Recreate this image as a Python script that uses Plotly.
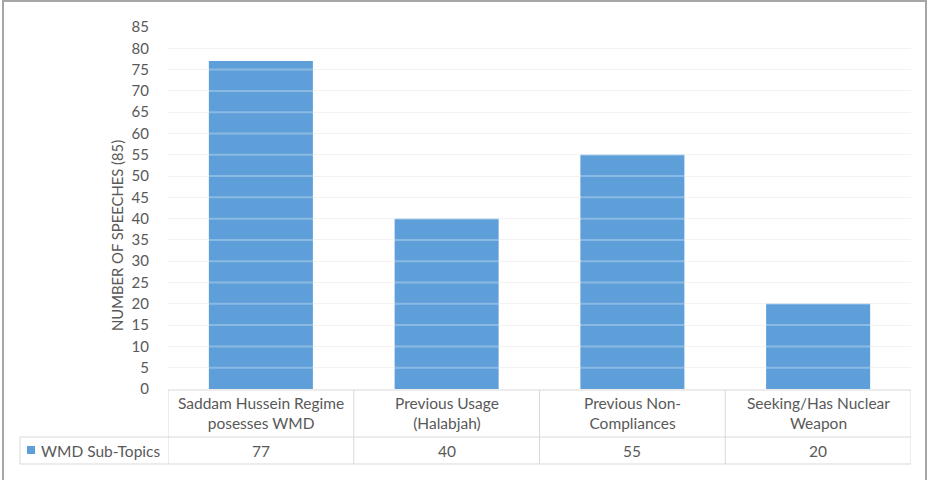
import plotly.graph_objects as go

# ---- data ----
categories = ["Saddam Hussein Regime<br>posesses WMD", "Previous Usage<br>(Halabjah)",
              "Previous Non-<br>Compliances", "Seeking/Has Nuclear<br>Weapon"]
series_name = "WMD Sub-Topics"
values = [77, 40, 55, 20]
y_ticks = [0, 5, 10, 15, 20, 25, 30, 35, 40, 45, 50, 55, 60, 65, 70, 75, 80, 85]
y_title = "NUMBER OF SPEECHES (85)"

# ---- layout constants (pixels) ----
W, H = 928, 480
PL, PR, PT, PB = 168, 911, 27, 389      # plot area
BAR_COLOR = "#5e9fd9"
TXT = "#595959"
GRID = "#d9d9d9"
FONT = "Lato"

def px(xp):  # pixel x -> paper
    return (xp - PL) / (PR - PL)

def py(yp):  # pixel y -> paper
    return (PB - yp) / (PB - PT)

xs = list(range(len(categories)))

fig = go.Figure()
fig.add_trace(go.Bar(x=xs, y=values, marker=dict(color=BAR_COLOR, line=dict(width=0)),
                     width=0.56, name=series_name, showlegend=False, hoverinfo="y"))

shapes = []
# light overlays of gridlines above bars
for t in y_ticks[1:]:
    shapes.append(dict(type="line", xref="paper", yref="y", x0=0, x1=1, y0=t, y1=t,
                       line=dict(color="rgba(255,255,255,0.28)", width=2), layer="above"))

# table lines
y_hdr_top, y_hdr_bot, y_row_bot = 390, 437, 464
x_left = 20
shapes.append(dict(type="line", xref="paper", yref="paper", x0=0, x1=1,
                   y0=py(y_hdr_top), y1=py(y_hdr_top), line=dict(color=GRID, width=1)))
for yy in (y_hdr_bot, y_row_bot):
    shapes.append(dict(type="line", xref="paper", yref="paper", x0=px(x_left), x1=1,
                       y0=py(yy), y1=py(yy), line=dict(color=GRID, width=1)))
shapes.append(dict(type="line", xref="paper", yref="paper", x0=px(x_left), x1=px(x_left),
                   y0=py(y_hdr_bot), y1=py(y_row_bot), line=dict(color=GRID, width=1)))
for k in range(len(categories) + 1):
    shapes.append(dict(type="line", xref="x", yref="paper", x0=k - 0.5, x1=k - 0.5,
                       y0=py(y_hdr_top), y1=py(y_row_bot), line=dict(color=GRID, width=1)))
# legend key
shapes.append(dict(type="rect", xref="paper", yref="paper", x0=px(27), x1=px(35),
                   y0=py(446), y1=py(454), fillcolor=BAR_COLOR, line=dict(width=0)))
# outer border
shapes.append(dict(type="rect", xref="paper", yref="paper", x0=px(3), x1=px(926),
                   y0=py(1), y1=py(482), line=dict(color="#a6a6a6", width=2)))

TFS = 15.5
annotations = []
for i, c in enumerate(categories):
    annotations.append(dict(x=i, xref="x", y=py((y_hdr_top + y_hdr_bot) / 2), yref="paper",
                            text=c, showarrow=False, xanchor="center", yanchor="middle",
                            font=dict(family=FONT, size=TFS, color=TXT)))
    annotations.append(dict(x=i, xref="x", y=py((y_hdr_bot + y_row_bot) / 2 + 0.5), yref="paper",
                            text=str(values[i]), showarrow=False, xanchor="center", yanchor="middle",
                            font=dict(family=FONT, size=TFS, color=TXT)))
annotations.append(dict(x=px(39), xref="paper", y=py((y_hdr_bot + y_row_bot) / 2 + 0.5), yref="paper",
                        text=series_name, showarrow=False, xanchor="left", yanchor="middle",
                        font=dict(family=FONT, size=TFS, color=TXT)))
annotations.append(dict(x=px(117), xref="paper", y=py(236), yref="paper", text=y_title,
                        textangle=-90, showarrow=False, xanchor="center", yanchor="middle",
                        font=dict(family=FONT, size=14.8, color=TXT)))

fig.update_layout(
    width=W, height=H,
    margin=dict(l=PL, r=W - PR, t=PT, b=H - PB, pad=0),
    paper_bgcolor="white", plot_bgcolor="white",
    font=dict(family=FONT, size=15, color=TXT),
    xaxis=dict(range=[-0.5, len(categories) - 0.5], showticklabels=False, showgrid=False,
               zeroline=False, showline=False, ticks="", fixedrange=True),
    yaxis=dict(range=[0, 85], tickvals=y_ticks, ticktext=[str(t) for t in y_ticks],
               showgrid=True, gridcolor="#eeeeee", gridwidth=1, zeroline=False, showline=False,
               ticks="", ticklabelstandoff=18, tickfont=dict(family=FONT, size=15, color=TXT),
               fixedrange=True),
    shapes=shapes, annotations=annotations, showlegend=False,
)

fig.write_html("out.html")
